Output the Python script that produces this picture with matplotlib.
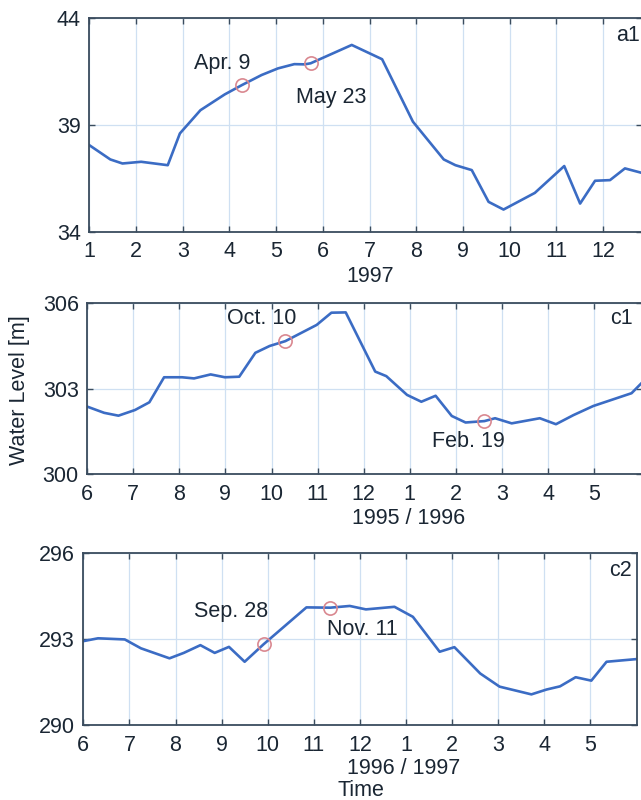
import matplotlib
matplotlib.use("Agg")
import matplotlib.pyplot as plt

# ---------------- data ----------------
a1_months = [1.0, 1.45, 1.71, 2.11, 2.68, 2.94, 3.38, 3.90, 4.27, 4.69, 5.04, 5.39, 5.61, 5.74,
             6.62, 7.27, 7.93, 8.59, 8.84, 9.19, 9.55, 9.87, 10.54, 11.17, 11.51, 11.83, 12.15,
             12.47, 12.83]
a1_levels = [38.05, 37.38, 37.19, 37.27, 37.11, 38.6, 39.69, 40.43, 40.87, 41.34, 41.65, 41.85,
             41.84, 41.89, 42.75, 42.08, 39.15, 37.38, 37.11, 36.88, 35.39, 35.03, 35.81, 37.07,
             35.31, 36.38, 36.41, 36.96, 36.75]
a1_mark_x = [4.27, 5.74]
a1_mark_y = [40.87, 41.89]
a1_mark_labels = ["Apr. 9", "May 23"]

c1_months = [6.0, 6.37, 6.68, 7.04, 7.35, 7.67, 8.06, 8.32, 8.68, 8.99, 9.30, 9.65, 9.96, 10.30,
             10.98, 11.30, 11.61, 12.25, 12.49, 12.94, 13.25, 13.56, 13.91, 14.21, 14.62, 14.85,
             15.21, 15.82, 16.17, 16.55, 16.98, 17.81, 18.03]
c1_levels = [302.37, 302.15, 302.05, 302.25, 302.52, 303.4, 303.4, 303.36, 303.5, 303.4, 303.42,
             304.26, 304.5, 304.67, 305.24, 305.67, 305.68, 303.6, 303.44, 302.78, 302.54, 302.75,
             302.04, 301.81, 301.86, 301.96, 301.78, 301.96, 301.75, 302.07, 302.39, 302.84, 303.2]
c1_mark_x = [10.30, 14.62]
c1_mark_y = [304.67, 301.86]
c1_mark_labels = ["Oct. 10", "Feb. 19"]

c2_months = [6.0, 6.32, 6.90, 7.25, 7.87, 8.18, 8.54, 8.85, 9.16, 9.50, 9.91, 10.84, 11.36, 11.78,
             12.13, 12.75, 13.15, 13.73, 14.05, 14.61, 15.03, 15.72, 16.05, 16.34, 16.68, 17.02,
             17.35, 17.98]
c2_levels = [292.93, 293.03, 292.99, 292.68, 292.33, 292.52, 292.79, 292.52, 292.73, 292.21,
             292.82, 294.11, 294.1, 294.16, 294.04, 294.13, 293.78, 292.56, 292.72, 291.8, 291.34,
             291.07, 291.24, 291.35, 291.67, 291.55, 292.21, 292.3]
c2_mark_x = [9.91, 11.36]
c2_mark_y = [292.82, 294.1]
c2_mark_labels = ["Sep. 28", "Nov. 11"]

a1_xticks = list(range(1, 13))
a1_xticklabels = [str(m) for m in range(1, 13)]
c_xticks = list(range(6, 18))
c_xticklabels = ["6", "7", "8", "9", "10", "11", "12", "1", "2", "3", "4", "5"]
a1_yticks = [34, 39, 44]
c1_yticks = [300, 303, 306]
c2_yticks = [290, 293, 296]

# ---------------- style ----------------
W, H = 641, 800
plt.rcParams['font.family'] = ['Liberation Sans', 'DejaVu Sans']
FS = 15.5
TXT = '#1a2633'
SPINE = '#3a4c5e'
LINE = '#3b6cc4'
MARK = '#d98890'
GRID = '#cfe0f2'

fig = plt.figure(figsize=(W / 100, H / 100), dpi=100)
fig.patch.set_facecolor('white')


def px_axes(left, right, top, bottom):
    return fig.add_axes([left / W, 1 - bottom / H, (right - left) / W, (bottom - top) / H])


def style(ax, xlim, ylim, xticks, xticklabels, yticks):
    ax.set_xlim(*xlim)
    ax.set_ylim(*ylim)
    ax.set_xticks(xticks)
    ax.set_xticklabels(xticklabels)
    ax.set_yticks(yticks)
    ax.set_yticklabels([str(v) for v in yticks])
    ax.grid(True, color=GRID, lw=0.9)
    ax.set_axisbelow(True)
    for s in ax.spines.values():
        s.set_color(SPINE)
        s.set_linewidth(1.3)
    ax.tick_params(direction='in', top=True, right=True, length=4, width=1.0,
                   color=SPINE, labelcolor=TXT, labelsize=FS)
    ax.tick_params(axis='x', pad=7)
    ax.tick_params(axis='y', pad=6)


panels = [
    dict(pos=(89.3, 642.0, 18.3, 231.5), xlim=(1, 1 + (642.0 - 89.3) / 46.7), ylim=(34, 44),
         xticks=a1_xticks, xtl=a1_xticklabels, yticks=a1_yticks,
         x=a1_months, y=a1_levels, mx=a1_mark_x, my=a1_mark_y, ml=a1_mark_labels,
         lab_pos=[(3.84, 41.9), (6.19, 40.3)], tag='a1', tag_pos=(12.53, 43.2)),
    dict(pos=(87.1, 641.5, 303.3, 474.0), xlim=(6, 6 + (641.5 - 87.1) / 46.1), ylim=(300, 306),
         xticks=c_xticks, xtl=c_xticklabels, yticks=c1_yticks,
         x=c1_months, y=c1_levels, mx=c1_mark_x, my=c1_mark_y, ml=c1_mark_labels,
         lab_pos=[(9.79, 305.47), (14.28, 301.14)], tag='c1', tag_pos=(17.58, 305.45)),
    dict(pos=(83.3, 636.5, 553.3, 725.0), xlim=(6, 18), ylim=(290, 296),
         xticks=c_xticks, xtl=c_xticklabels, yticks=c2_yticks,
         x=c2_months, y=c2_levels, mx=c2_mark_x, my=c2_mark_y, ml=c2_mark_labels,
         lab_pos=[(9.21, 293.96), (12.05, 293.35)], tag='c2', tag_pos=(17.65, 295.39)),
]

for p in panels:
    ax = px_axes(*p['pos'])
    style(ax, p['xlim'], p['ylim'], p['xticks'], p['xtl'], p['yticks'])
    ax.plot(p['x'], p['y'], color=LINE, lw=1.9, clip_on=True)
    ax.plot(p['mx'], p['my'], 'o', mfc='none', mec=MARK, ms=9.5, mew=1.2)
    for (tx, ty), t in zip(p['lab_pos'], p['ml']):
        ax.text(tx, ty, t, ha='center', va='center', fontsize=FS, color=TXT)
    ax.text(p['tag_pos'][0], p['tag_pos'][1], p['tag'], ha='center', va='center',
            fontsize=FS, color=TXT)

fig.text(370 / W, 1 - 277 / H, '1997', ha='center', va='center', fontsize=FS, color=TXT)
fig.text(408.8 / W, 1 - 519 / H, '1995 / 1996', ha='center', va='center', fontsize=FS, color=TXT)
fig.text(403.3 / W, 1 - 769 / H, '1996 / 1997', ha='center', va='center', fontsize=FS, color=TXT)
fig.text(360.6 / W, 1 - 790.7 / H, 'Time', ha='center', va='center', fontsize=FS, color=TXT)
fig.text(20 / W, 1 - 390 / H, 'Water Level [m]', ha='center', va='center', rotation=90,
         fontsize=FS, color=TXT)

fig.savefig('out.png', dpi=100)
